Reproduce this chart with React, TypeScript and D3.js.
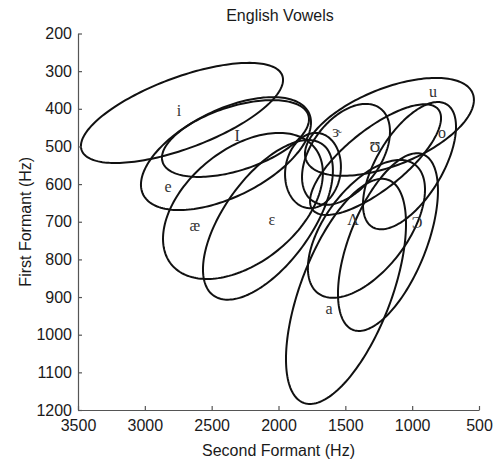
import { useEffect, useRef } from 'react';
import * as d3 from 'd3';

// vowel ellipses: centre (F2, F1), half ranges (Hz) and F1/F2 correlation
const vowels = ['i', 'I', 'e', 'æ', 'ɛ', 'ɝ2', 'ɝ', 'u', 'ʊ', 'o', 'ʌ', 'ɔ', 'a'];
const f2Centre = [2722, 2322, 2393, 2266, 2079, 1742, 1495, 1170, 1274, 1020, 1342, 1181, 1495];
const f1Centre = [411, 479, 519, 658, 695, 564, 521, 448, 535, 551, 719, 754, 885];
const f2Half = [756, 550, 636, 598, 486, 209, 329, 632, 490, 348, 438, 374, 449];
const f1Half = [133, 102, 150, 194, 212, 100, 134, 130, 147, 169, 183, 236, 299];
const corr = [0.66, 0.5, 0.55, 0.45, 0.62, 0.1, 0.45, 0.55, 0.75, 0.61, 0.57, 0.58, 0.6];

// label text and positions
const labelText = ['i', 'I', 'e', 'æ', 'ε', 'ɝ', 'ʊ', 'u', 'o', 'Λ', 'Ɔ', 'a'];
const labelF2 = [2744, 2310, 2827, 2625, 2049, 1562, 1278, 844, 777, 1443, 964, 1622];
const labelF1 = [403, 470, 605, 709, 695, 459, 496, 355, 464, 695, 701, 929];

const xTicks = [3500, 3000, 2500, 2000, 1500, 1000, 500];
const yTicks = [200, 300, 400, 500, 600, 700, 800, 900, 1000, 1100, 1200];

export default function App() {
  const ref = useRef<SVGSVGElement | null>(null);

  useEffect(() => {
    const width = 500;
    const height = 461;
    const margin = { top: 33.5, right: 21, bottom: 51, left: 78 };

    const svg = d3.select(ref.current);
    svg.selectAll('*').remove();

    const x = d3.scaleLinear().domain([3500, 500]).range([margin.left, width - margin.right]);
    const y = d3.scaleLinear().domain([200, 1200]).range([margin.top, height - margin.bottom]);

    const sans = 'Liberation Sans, Arial, Helvetica, sans-serif';

    // ellipses
    const line = d3.line<[number, number]>()
      .x(d => x(d[0]))
      .y(d => y(d[1]))
      .curve(d3.curveLinearClosed);

    const angles = d3.range(0, 2 * Math.PI, Math.PI / 90);
    vowels.forEach((v, k) => {
      const phi = Math.acos(corr[k]);
      const pts: [number, number][] = angles.map(t => [
        f2Centre[k] + f2Half[k] * Math.cos(t),
        f1Centre[k] + f1Half[k] * Math.cos(t - phi),
      ]);
      svg.append('path')
        .attr('d', line(pts))
        .attr('fill', 'none')
        .attr('stroke', '#111')
        .attr('stroke-width', 2);
    });

    // axes
    const axisColor = '#555';
    const gx = svg.append('g').attr('transform', `translate(0,${y(1200)})`);
    gx.call(d3.axisBottom(x).tickValues(xTicks).tickFormat(d3.format('d')).tickSizeInner(-4).tickSizeOuter(0).tickPadding(10));
    const gy = svg.append('g').attr('transform', `translate(${x(3500)},0)`);
    gy.call(d3.axisLeft(y).tickValues(yTicks).tickFormat(d3.format('d')).tickSizeInner(-4).tickSizeOuter(0).tickPadding(6));
    [gx, gy].forEach(g => {
      g.select('.domain').attr('stroke', axisColor).attr('stroke-width', 1.2);
      g.selectAll('.tick line').attr('stroke', axisColor).attr('stroke-width', 1.2);
      g.selectAll('.tick text')
        .attr('fill', '#1a1a1a')
        .attr('font-family', sans)
        .attr('font-size', 16);
    });

    // labels
    labelText.forEach((t, k) => {
      svg.append('text')
        .attr('x', x(labelF2[k]))
        .attr('y', y(labelF1[k]))
        .attr('dy', '0.35em')
        .attr('text-anchor', 'middle')
        .attr('font-family', 'Liberation Serif, DejaVu Serif, serif')
        .attr('font-size', t === 'ʊ' ? 20 : 16)
        .attr('fill', '#333')
        .text(t);
    });

    svg.append('text')
      .attr('x', 280).attr('y', 21)
      .attr('text-anchor', 'middle')
      .attr('font-family', sans).attr('font-size', 16).attr('fill', '#1a1a1a')
      .text('English Vowels');

    svg.append('text')
      .attr('x', (x(3500) + x(500)) / 2).attr('y', 456)
      .attr('text-anchor', 'middle')
      .attr('font-family', sans).attr('font-size', 16).attr('fill', '#1a1a1a')
      .text('Second Formant (Hz)');

    svg.append('text')
      .attr('transform', `translate(31,${(y(200) + y(1200)) / 2}) rotate(-90)`)
      .attr('text-anchor', 'middle')
      .attr('font-family', sans).attr('font-size', 16).attr('fill', '#1a1a1a')
      .text('First Formant (Hz)');
  }, []);

  return (
    <svg
      ref={ref}
      width={500}
      height={461}
      style={{ position: 'absolute', left: 0, top: 0, background: '#fff' }}
    />
  );
}
